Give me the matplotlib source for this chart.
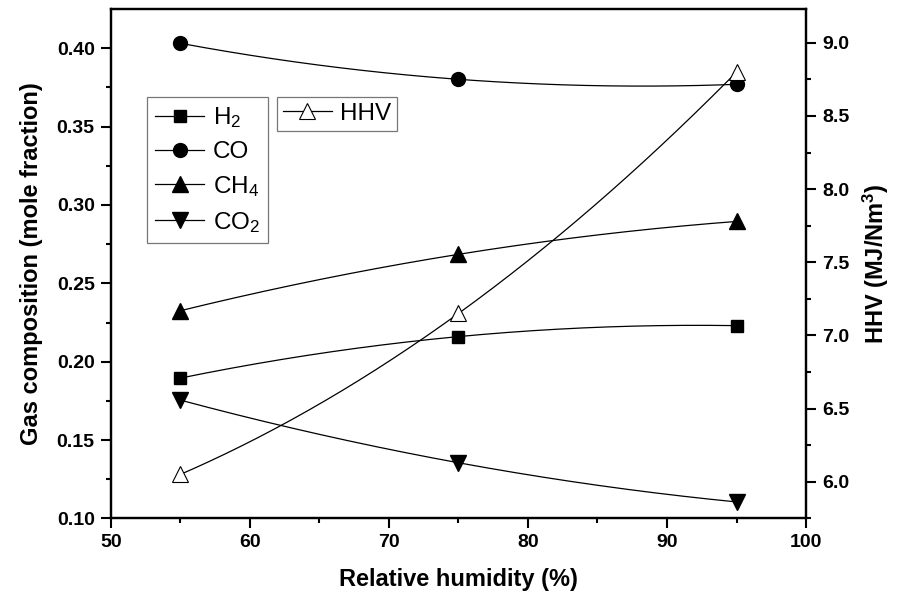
import matplotlib.pyplot as plt
import numpy as np

import matplotlib

matplotlib.rcParams.update({
    "font.family": ["Liberation Sans", "DejaVu Sans"],
    "font.weight": "bold",
    "axes.labelweight": "bold",
    "mathtext.fontset": "custom",
    "mathtext.rm": "Liberation Sans:weight=normal",
    "mathtext.bf": "Liberation Sans:weight=bold",
    "mathtext.it": "Liberation Sans:italic:weight=normal",
})

# relative humidity (%) and gas composition (mole fraction)
rh = [55, 75, 95]
h2 = [0.1895, 0.2160, 0.2230]
co = [0.4032, 0.3802, 0.3770]
ch4 = [0.2325, 0.2685, 0.2895]
co2 = [0.1755, 0.1355, 0.1105]
# higher heating value (MJ/Nm3)
hhv = [6.05, 7.15, 8.80]


def smooth(x, y):
    # quadratic curve through the three measured points
    xs = np.linspace(min(x), max(x), 200)
    return xs, np.polyval(np.polyfit(x, y, 2), xs)


fig = plt.figure(figsize=(9.15, 6.07), dpi=100)
ax = fig.add_axes([0.121, 0.146, 0.760, 0.839])
ax2 = ax.twinx()

series = [
    (h2, "s", 9, r"H$_\mathrm{2}$"),
    (co, "o", 10, "CO"),
    (ch4, "^", 11, r"CH$_\mathrm{4}$"),
    (co2, "v", 11, r"CO$_\mathrm{2}$"),
]
handles = []
for vals, mk, ms, lab in series:
    xs, ys = smooth(rh, vals)
    ax.plot(xs, ys, color="k", lw=0.9)
    ax.plot(rh, vals, ls="none", marker=mk, ms=ms, color="k")
    h, = ax.plot([], [], color="k", lw=0.9, marker=mk, ms=ms, label=lab)
    handles.append(h)

xs, ys = smooth(rh, hhv)
ax2.plot(xs, ys, color="k", lw=0.9)
ax2.plot(rh, hhv, ls="none", marker="^", ms=11, mfc="white", mec="k", mew=0.8)
h_hhv, = ax2.plot([], [], color="k", lw=0.9, marker="^", ms=11,
                  mfc="white", mec="k", mew=0.8, label="HHV")

ax.set_xlim(50, 100)
ax.set_ylim(0.10, 0.425)
ax2.set_ylim(5.75, 9.23)
ax.set_xticks(np.arange(50, 101, 10))
ax.set_xticks(np.arange(55, 100, 10), minor=True)
ax.set_yticks(np.arange(0.10, 0.41, 0.05))
ax.set_yticks(np.arange(0.125, 0.42, 0.05), minor=True)
ax.yaxis.set_major_formatter(matplotlib.ticker.FormatStrFormatter("%.2f"))
ax2.set_yticks(np.arange(6.0, 9.01, 0.5))
ax2.set_yticks(np.arange(5.75, 9.2, 0.5), minor=True)
ax2.yaxis.set_major_formatter(matplotlib.ticker.FormatStrFormatter("%.1f"))

for a in (ax, ax2):
    for s in a.spines.values():
        s.set_linewidth(1.6)
    a.tick_params(which="major", direction="out", length=7.5, width=1.5,
                  labelsize=14, pad=4)
    a.tick_params(which="minor", direction="out", length=3.5, width=1.5)
ax.tick_params(top=False, right=False, which="both")

ax.set_xlabel("Relative humidity (%)", fontsize=17, labelpad=12)
ax.set_ylabel("Gas composition (mole fraction)", fontsize=17, labelpad=10)
ax2.set_ylabel(r"HHV (MJ/Nm$^\mathbf{3}$)", fontsize=17, labelpad=8)

leg_kw = dict(loc="upper left", prop={"size": 17.5, "weight": "normal"},
              frameon=True, fancybox=False, borderaxespad=0, borderpad=0.35,
              handletextpad=0.35, handlelength=2.0, labelspacing=0.45)
leg1 = ax.legend(handles=handles, bbox_to_anchor=(0.052, 0.828), **leg_kw)
leg1.get_frame().set_edgecolor("#555555")
leg1.get_frame().set_linewidth(0.9)
leg2 = ax2.legend(handles=[h_hhv], bbox_to_anchor=(0.239, 0.828),
                  **{**leg_kw, "borderpad": 0.25})
leg2.get_frame().set_edgecolor("#555555")
leg2.get_frame().set_linewidth(0.9)

plt.savefig("out.png", dpi=100)
plt.close()
